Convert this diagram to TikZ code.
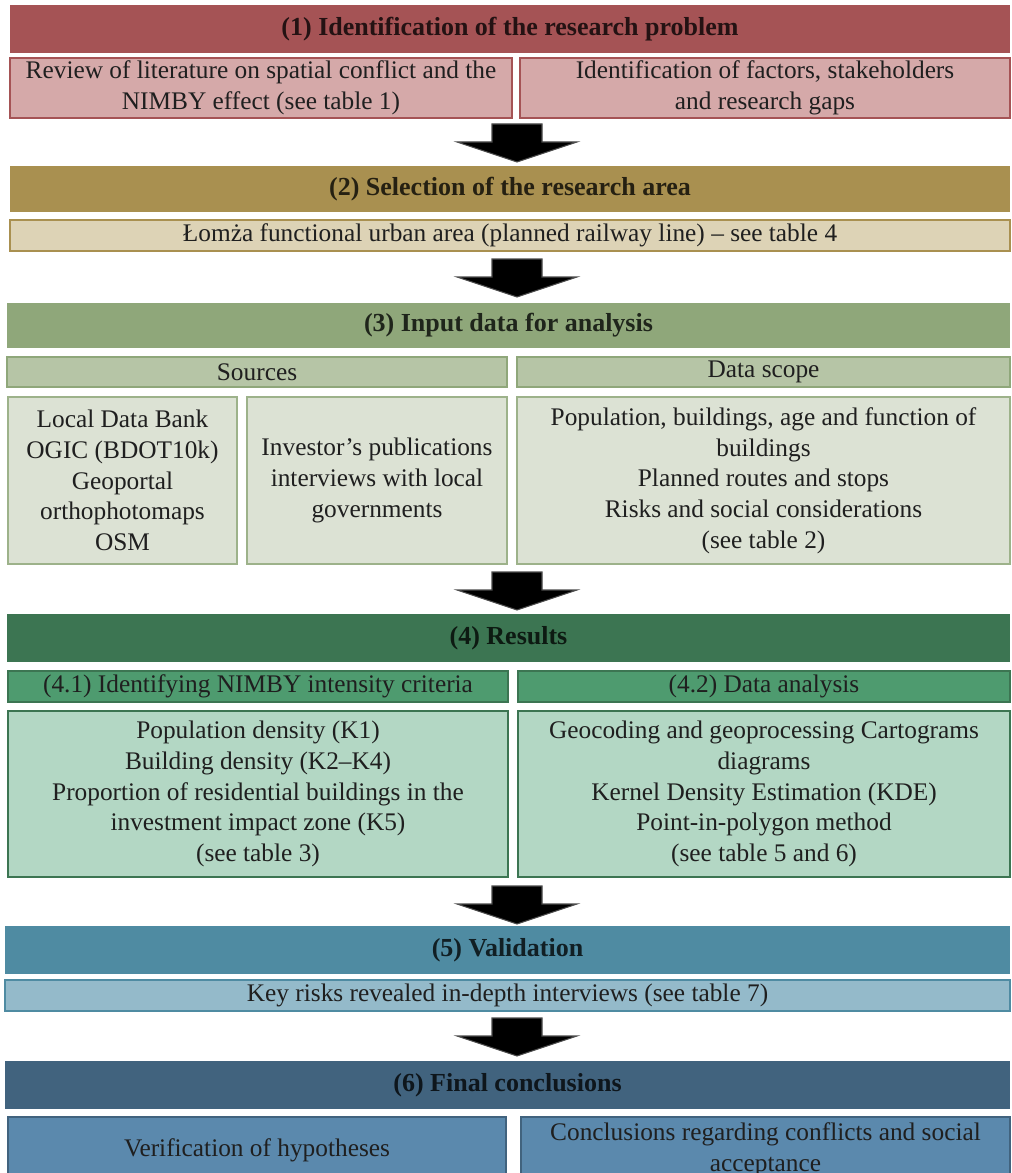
\documentclass[tikz,border=0pt]{standalone}
\usepackage{fontspec}
\setmainfont{Liberation Serif}

\definecolor{redhead}{HTML}{A55355}
\definecolor{redsub}{HTML}{D5A9A9}
\definecolor{goldhead}{HTML}{A99050}
\definecolor{goldsub}{HTML}{DDD3B6}
\definecolor{sagehead}{HTML}{8FA77A}
\definecolor{sagesub}{HTML}{B6C5A6}
\definecolor{sagebox}{HTML}{DCE2D4}
\definecolor{sageline}{HTML}{9DB28A}
\definecolor{greenhead}{HTML}{3C7552}
\definecolor{greensub}{HTML}{4E9B6F}
\definecolor{greenbox}{HTML}{B3D7C4}
\definecolor{tealhead}{HTML}{4F8BA2}
\definecolor{tealsub}{HTML}{94BACA}
\definecolor{bluehead}{HTML}{41637E}
\definecolor{bluebox}{HTML}{5B89AD}

\tikzset{
  span/.style n args={4}{at={({0.5*#1+0.5*#3},{0.5*#2+0.5*#4})},
    minimum width={(#3-#1)*0.75pt}, minimum height={(#4-#2)*0.75pt}},
  stage/.style={fill=#1, inner sep=0pt, text=black!78!#1,
    font=\fontsize{19.5}{23}\selectfont\bfseries},
  part/.style 2 args={fill=#1, draw=#2, line width=2pt, inner sep=0pt,
    align=center, text=black!88, font=\fontsize{19}{23}\selectfont},
  stagearrow/.pic={
    \filldraw[fill=black, draw=black!70, line width=0.8pt]
      (-25,0) -- (25,0) -- (25,18) -- (60,18) -- (0,38) -- (-60,18) -- (-25,18) -- cycle;
  }
}

\begin{document}
\begin{tikzpicture}[x=0.75pt, y=-0.75pt]
    \useasboundingbox (0,0) rectangle (1011,1173);
    \fill[white] (0,0) rectangle (1011,1173);

    % (1)
    \node[stage=redhead, span={10}{5}{1010}{53}] (h1) {(1) Identification of the research problem};
    \node[part={redsub}{redhead}, span={10}{58}{512}{118}] (lit)
        {Review of literature on spatial conflict and the\\NIMBY effect (see table 1)};
    \node[part={redsub}{redhead}, span={520}{58}{1010}{118}] (gaps)
        {Identification of factors, stakeholders\\and research gaps};

    % (2)
    \node[stage=goldhead, span={10}{166}{1010}{212}] (h2) {(2) Selection of the research area};
    \node[part={goldsub}{goldhead}, span={10}{220}{1010}{251}] (area)
        {Łomża functional urban area (planned railway line) – see table 4};

    % (3)
    \node[stage=sagehead, span={7}{303}{1010}{348}] (h3) {(3) Input data for analysis};
    \node[part={sagesub}{sagehead}, span={7}{357}{507}{387}] (sources) {Sources};
    \node[part={sagesub}{sagehead}, span={517}{357}{1010}{387}] (scope) {Data scope};
    \node[part={sagebox}{sageline}, span={8}{397}{237}{564}] (banks)
        {Local Data Bank\\OGIC (BDOT10k)\\Geoportal\\orthophotomaps\\OSM};
    \node[part={sagebox}{sageline}, span={247}{397}{507}{564}] (invest)
        {Investor’s publications\\interviews with local\\governments};
    \node[part={sagebox}{sageline}, span={517}{397}{1010}{564}] (scopebox)
        {Population, buildings, age and function of\\buildings\\Planned routes and stops\\Risks and social considerations\\(see table 2)};

    % (4)
    \node[stage=greenhead, span={7}{614}{1010}{662}] (h4) {(4) Results};
    \node[part={greensub}{greenhead}, span={8}{671}{508}{702}] (crit)
        {(4.1) Identifying NIMBY intensity criteria};
    \node[part={greensub}{greenhead}, span={518}{671}{1010}{702}] (anal)
        {(4.2) Data analysis};
    \node[part={greenbox}{greenhead}, span={8}{711}{508}{877}] (critbox)
        {Population density (K1)\\Building density (K2–K4)\\Proportion of residential buildings in the\\investment impact zone (K5)\\(see table 3)};
    \node[part={greenbox}{greenhead}, span={518}{711}{1010}{877}] (analbox)
        {Geocoding and geoprocessing Cartograms\\diagrams\\Kernel Density Estimation (KDE)\\Point-in-polygon method\\(see table 5 and 6)};

    % (5)
    \node[stage=tealhead, span={5}{926}{1010}{974}] (h5) {(5) Validation};
    \node[part={tealsub}{tealhead}, span={5}{980}{1010}{1011}] (risks)
        {Key risks revealed in-depth interviews (see table 7)};

    % (6)
    \node[stage=bluehead, span={5}{1061}{1010}{1109}] (h6) {(6) Final conclusions};
    \node[part={bluebox}{bluehead}, span={8}{1117}{506}{1183}] (verif)
        {Verification of hypotheses};
    \node[part={bluebox}{bluehead}, span={521}{1117}{1010}{1183}] (concl)
        {Conclusions regarding conflicts and social\\acceptance};

    \foreach \y in {124, 259, 572, 886, 1018}
        \pic at (517,\y) {stagearrow};
\end{tikzpicture}
\end{document}
